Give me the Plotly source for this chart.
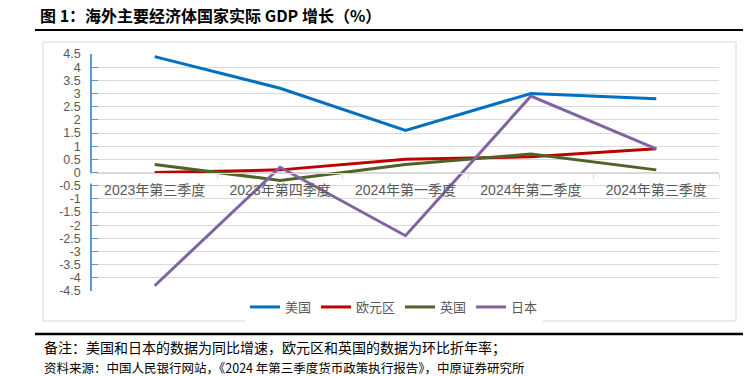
import plotly.graph_objects as go

# ---- data ----
quarters = ["2023年第三季度", "2023年第四季度", "2024年第一季度", "2024年第二季度", "2024年第三季度"]
us = [4.4, 3.2, 1.6, 3.0, 2.8]
euro = [0.0, 0.1, 0.5, 0.6, 0.9]
uk = [0.3, -0.3, 0.3, 0.7, 0.1]
japan = [-4.3, 0.2, -2.4, 2.9, 0.9]
series_names = ["美国", "欧元区", "英国", "日本"]
y_ticks = [v / 2 for v in range(-9, 10)]
y_tick_labels = [("%g" % v) for v in y_ticks]

title_text = "图 1：海外主要经济体国家实际 GDP 增长（%）"
note_text = "备注：美国和日本的数据为同比增速，欧元区和英国的数据为环比折年率；"
source_text = "资料来源：中国人民银行网站，《2024 年第三季度货币政策执行报告》，中原证券研究所"

colors = ["#0070C0", "#C00000", "#4F6228", "#8064A2"]

W, H = 750, 376
L, R, T, B = 92, 31, 54, 85
pw, ph = W - L - R, H - T - B


def px(x):
    return (x - L) / pw


def py(y):
    return (H - B - y) / ph


fig = go.Figure()
for name, vals, c in zip(series_names, [us, euro, uk, japan], colors):
    fig.add_trace(go.Scatter(x=quarters, y=vals, name=name, mode="lines",
                             line=dict(color=c, width=3)))

gray = "#595959"
fig.update_layout(
    width=W, height=H,
    margin=dict(l=L, r=R, t=T, b=B),
    paper_bgcolor="white", plot_bgcolor="white",
    showlegend=True,
    legend=dict(orientation="h", x=px(394), xanchor="center", y=py(307), yanchor="middle",
                font=dict(family="Noto Sans CJK SC", size=13, color=gray),
                itemwidth=30, tracegroupgap=0),
    xaxis=dict(type="category", range=[-0.5, 4.5], anchor="free", position=0.5,
               showgrid=False, showline=True, linecolor="#D9D9D9", linewidth=1,
               ticks="outside", ticklen=5, tickcolor="#D9D9D9", tickson="boundaries",
               tickfont=dict(family="Liberation Sans, Noto Sans CJK SC", size=14, color=gray),
               ticklabelstandoff=5),
    yaxis=dict(range=[-4.5, 4.5], tickvals=y_ticks, ticktext=y_tick_labels,
               showgrid=True, gridcolor="#D9D9D9", gridwidth=1, zeroline=False,
               showline=True, linecolor="#5B9BD5", linewidth=1.5,
               ticks="inside", ticklen=6, tickcolor="#5B9BD5",
               tickfont=dict(family="Liberation Sans", size=12.5, color=gray),
               ticklabelstandoff=7),
)

shapes = [
    # chart box
    dict(type="rect", xref="paper", yref="paper", x0=px(43), x1=px(736), y0=py(321), y1=py(42),
         line=dict(color="#D9D9D9", width=1), layer="below"),
    # top rule
    dict(type="line", xref="paper", yref="paper", x0=px(35), x1=px(743), y0=py(30), y1=py(30),
         line=dict(color="black", width=2)),
    # bottom rule
    dict(type="line", xref="paper", yref="paper", x0=px(35), x1=px(743), y0=py(334), y1=py(334),
         line=dict(color="black", width=2.5)),
    # gap in y axis behind category labels
    dict(type="rect", xref="paper", yref="y", x0=-0.006, x1=0.006, y0=-0.03, y1=-0.42,
         fillcolor="white", line=dict(width=0), layer="above"),
]
fig.update_layout(shapes=shapes)

fig.add_annotation(text="<b>" + title_text + "</b>", xref="paper", yref="paper",
                   x=px(38), y=py(15), xanchor="left", yanchor="middle", showarrow=False,
                   font=dict(family="Noto Sans CJK SC", size=16, color="black"))
fig.add_annotation(text=note_text, xref="paper", yref="paper",
                   x=px(42), y=py(347), xanchor="left", yanchor="middle", showarrow=False,
                   font=dict(family="Noto Sans CJK SC", size=14, color="black"))
fig.add_annotation(text=source_text, xref="paper", yref="paper",
                   x=px(42), y=py(367), xanchor="left", yanchor="middle", showarrow=False,
                   font=dict(family="Noto Sans CJK SC", size=12.5, color="black"))

fig.write_html("out.html",
               config={"displayModeBar": False},
               post_script="document.body.style.margin='0';document.body.style.overflow='hidden';")
